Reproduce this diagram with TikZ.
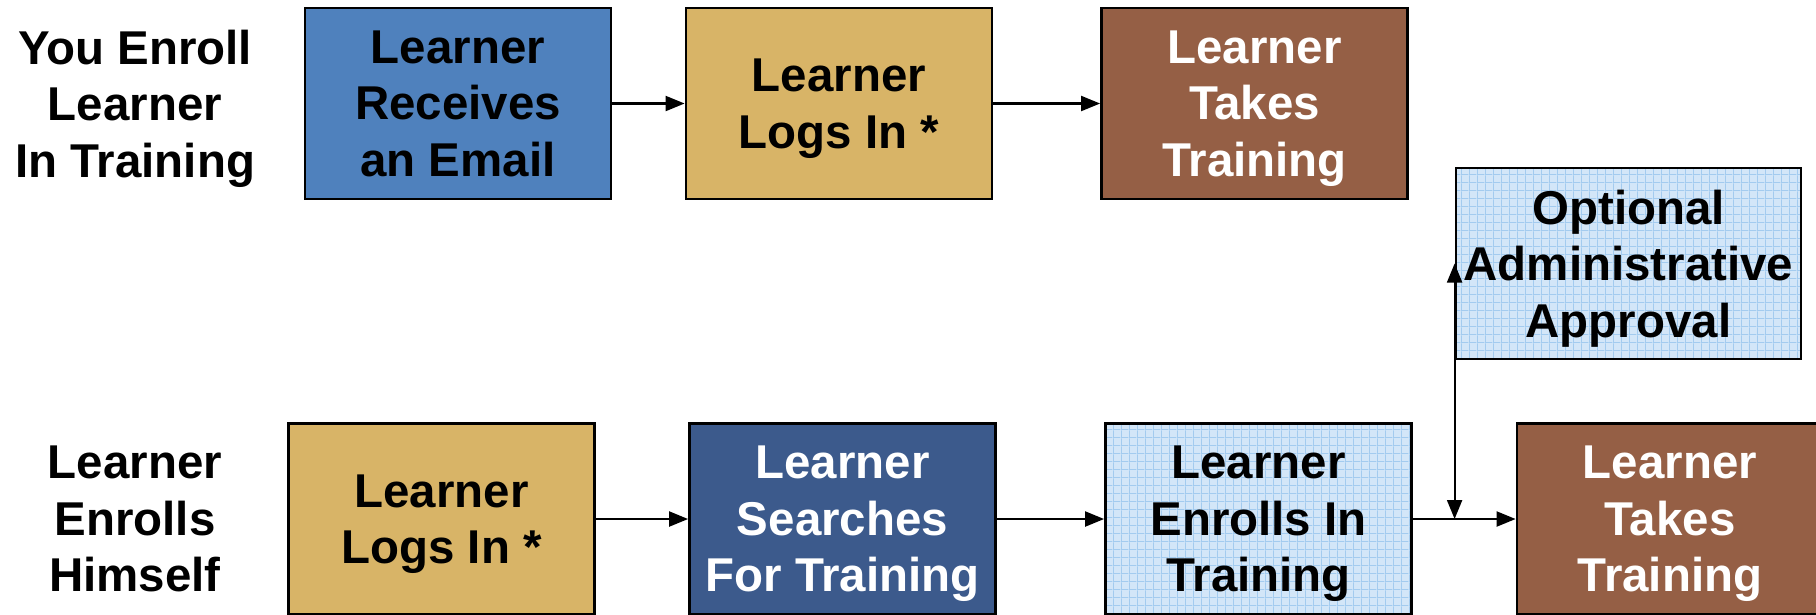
\documentclass[tikz,border=0pt]{standalone}
\usepackage{fontspec}
\setmainfont{Liberation Sans}
\usepackage{tikz}
\usetikzlibrary{arrows.meta,patterns}
\usepackage{xcolor}
\definecolor{SteelBlue}{HTML}{4F81BD}
\definecolor{Sand}{HTML}{D8B467}
\definecolor{Umber}{HTML}{955F45}
\definecolor{Navy}{HTML}{3C5A8C}
\definecolor{IceBlue}{HTML}{D3E6F8}
\definecolor{GridBlue}{HTML}{A3CBEF}
\newcommand{\boxfont}{\fontsize{13.5}{16.1}\selectfont\bfseries}
\pgfdeclarepatternformonly{finegrid}{\pgfpointorigin}{\pgfqpoint{2.2pt}{2.2pt}}{\pgfqpoint{2.2pt}{2.2pt}}{
  \pgfsetlinewidth{0.5pt}
  \pgfpathmoveto{\pgfqpoint{0pt}{0pt}}\pgfpathlineto{\pgfqpoint{2.2pt}{0pt}}
  \pgfpathmoveto{\pgfqpoint{0pt}{0pt}}\pgfpathlineto{\pgfqpoint{0pt}{2.2pt}}
  \pgfusepath{stroke}}

\tikzset{
  stepbox/.style={draw=black,line width=0.8pt,minimum width=3.06cm,minimum height=1.91cm,
    inner sep=0pt,align=center,font=\boxfont,text depth=0pt},
  gridbox/.style={stepbox,preaction={fill=IceBlue},pattern=finegrid,pattern color=GridBlue},
  rowlabel/.style={align=center,font=\boxfont,inner sep=0pt,text depth=0pt},
  arr/.style={line width=0.6pt,-{Triangle[length=1.9mm,width=1.5mm]}},
}

\begin{document}
\begin{tikzpicture}
    \useasboundingbox (0,0) rectangle (18.16,-6.14);

    % top row
    \node[rowlabel] (lblA) at (1.35,-1.035) {You Enroll\\Learner\\In Training};
    \node[stepbox,fill=SteelBlue] (rcv) at (4.58,-1.035) {Learner\\Receives\\an Email};
    \node[stepbox,fill=Sand] (logA) at (8.39,-1.035) {Learner\\Logs In *};
    \node[stepbox,fill=Umber,text=white] (takeA) at (12.545,-1.035) {Learner\\Takes\\Training};
    \draw[arr] (rcv) -- (logA);
    \draw[arr] (logA) -- (takeA);

    % approval
    \node[gridbox,minimum width=3.45cm] (opt) at (16.285,-2.635) {Optional\\Administrative\\Approval};

    % bottom row
    \node[rowlabel] (lblB) at (1.35,-5.19) {Learner\\Enrolls\\Himself};
    \node[stepbox,fill=Sand] (logB) at (4.415,-5.19) {Learner\\Logs In *};
    \node[stepbox,fill=Navy,text=white] (srch) at (8.425,-5.19) {Learner\\Searches\\For Training};
    \node[gridbox] (enr) at (12.585,-5.19) {Learner\\Enrolls In\\Training};
    \node[stepbox,fill=Umber,text=white] (takeB) at (16.70,-5.19) {Learner\\Takes\\Training};
    \draw[arr] (logB) -- (srch);
    \draw[arr] (srch) -- (enr);
    \draw[arr] (enr) -- (takeB);

    \coordinate (jn) at (opt.west |- enr.east);
    \draw[arr,{Triangle[length=1.9mm,width=1.5mm]}-{Triangle[length=1.9mm,width=1.5mm]}] (jn) -- (opt.west);
\end{tikzpicture}
\end{document}
